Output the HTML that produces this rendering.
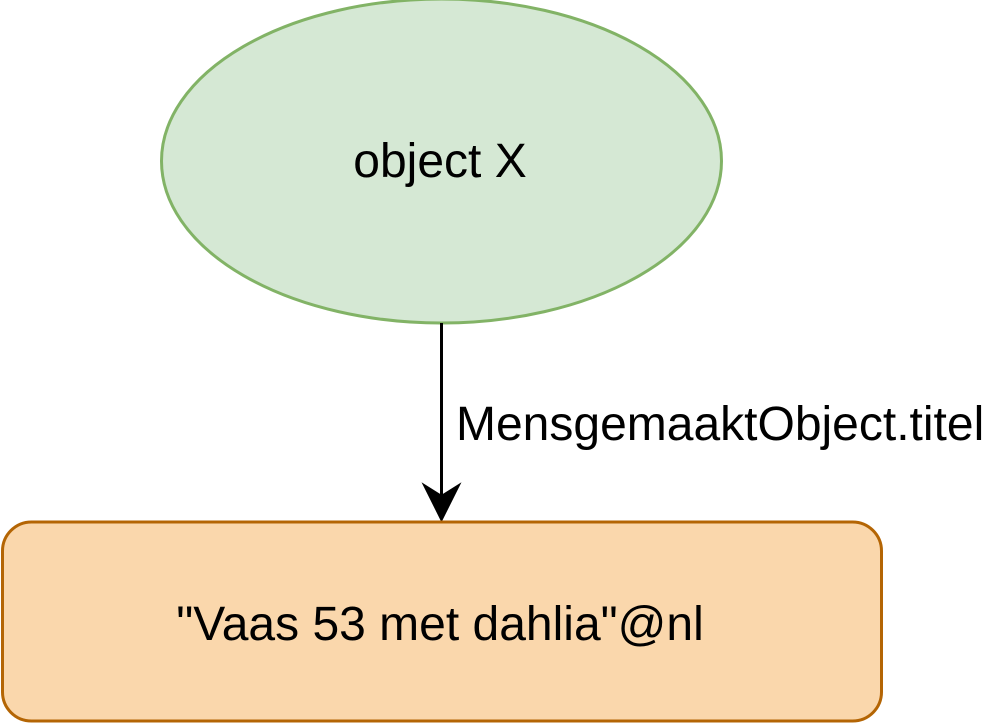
<!DOCTYPE html>
<html><head><style>html,body{margin:0;padding:0;background:#fff;}</style></head>
<body>
<svg width="988" height="728" xmlns="http://www.w3.org/2000/svg" style="display:block">
<ellipse cx="441.5" cy="161" rx="280" ry="162" fill="#d5e8d4" stroke="#82b366" stroke-width="3"/>
<text x="440" y="177" font-family="Liberation Sans, sans-serif" font-size="48" text-anchor="middle" fill="#000">object X</text>
<line x1="441.5" y1="323" x2="441.5" y2="505" stroke="#000" stroke-width="3"/>
<path d="M441.5 520 L424 485 L441.5 496 L459 485 Z" fill="#000" stroke="#000" stroke-width="2"/>
<text x="456" y="440" font-family="Liberation Sans, sans-serif" font-size="48" fill="#000">MensgemaaktObject.titel</text>
<rect x="2.5" y="522" width="879" height="199" rx="29" ry="29" fill="#fad7ac" stroke="#b46504" stroke-width="3"/>
<text x="440" y="640" font-family="Liberation Sans, sans-serif" font-size="48" text-anchor="middle" fill="#000">"Vaas 53 met dahlia"@nl</text>
</svg>
</body></html>
